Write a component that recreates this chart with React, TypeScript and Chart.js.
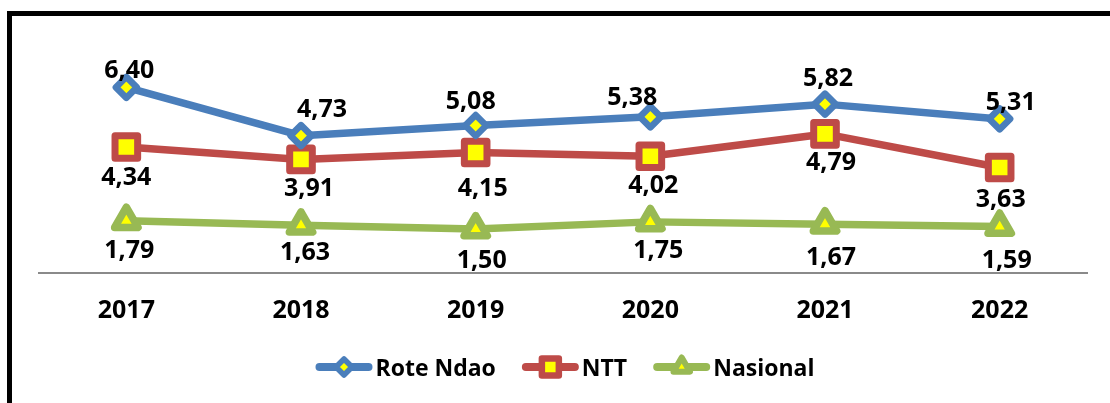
import React, { useEffect, useRef } from "react";
import { Chart, registerables } from "chart.js";

Chart.register(...registerables);

const YEARS = ["2017", "2018", "2019", "2020", "2021", "2022"];
const ROTE_NDAO = [6.4, 4.73, 5.08, 5.38, 5.82, 5.31];
const NTT = [4.34, 3.91, 4.15, 4.02, 4.79, 3.63];
const NASIONAL = [1.79, 1.63, 1.5, 1.75, 1.67, 1.59];
const SERIES_NAMES = ["Rote Ndao", "NTT", "Nasional"];

const BLUE = "#4A7EBB";
const RED = "#BE4B48";
const GREEN = "#98B954";
const YELLOW = "#FFFF00";
const FONT = "'Open Sans'";

// label nudges (dx, dy) relative to the point, per series / per category
const LABEL_OFFSETS = [
  [[3, -18], [21, -28], [-5, -26], [-18, -21], [3, -27], [11, -18]],
  [[0, 29], [8, 28], [7, 35], [3, 28], [6, 27], [1, 31]],
  [[3, 28], [4, 26], [6, 30], [8, 27], [6, 32], [7, 32]],
];

const fmt = (v: number) => v.toFixed(2).replace(".", ",");

function markerPath(ctx: CanvasRenderingContext2D, style: string, x: number, y: number, r: number) {
  ctx.beginPath();
  if (style === "rectRot") {
    ctx.moveTo(x - r, y);
    ctx.lineTo(x, y - r);
    ctx.lineTo(x + r, y);
    ctx.lineTo(x, y + r);
  } else if (style === "rect") {
    const s = Math.SQRT1_2 * r;
    ctx.rect(x - s, y - s, 2 * s, 2 * s);
  } else {
    for (let i = 0; i < 3; i++) {
      const a = (i * 2 * Math.PI) / 3;
      const px = x + Math.sin(a) * r;
      const py = y - Math.cos(a) * r;
      if (i === 0) ctx.moveTo(px, py);
      else ctx.lineTo(px, py);
    }
  }
  ctx.closePath();
}

const framePlugin = {
  id: "frame",
  beforeDraw(chart: any) {
    const ctx = chart.ctx;
    ctx.save();
    ctx.fillStyle = "#ffffff";
    ctx.fillRect(0, 0, chart.width, chart.height);
    ctx.fillStyle = "#000000";
    ctx.fillRect(7, 11, 5, chart.height);
    ctx.fillRect(7, 11, chart.width, 5);
    ctx.restore();
  },
};

const styleAndLabelPlugin = {
  id: "styleAndLabels",
  beforeDatasetsDraw(chart: any) {
    chart.ctx.save();
    chart.ctx.lineJoin = "round";
  },
  afterDatasetsDraw(chart: any) {
    const ctx = chart.ctx;
    ctx.restore();
    ctx.save();
    ctx.font = `bold 25px ${FONT}`;
    ctx.fillStyle = "#000";
    ctx.textAlign = "center";
    ctx.textBaseline = "alphabetic";
    chart.data.datasets.forEach((ds: any, di: number) => {
      const meta = chart.getDatasetMeta(di);
      meta.data.forEach((pt: any, i: number) => {
        const off = LABEL_OFFSETS[di][i];
        ctx.fillText(fmt(ds.data[i]), pt.x + off[0], pt.y + off[1] + 9);
      });
    });
    ctx.restore();
  },
};

const legendPlugin = {
  id: "customLegend",
  afterDraw(chart: any) {
    const ctx = chart.ctx;
    ctx.save();
    ctx.font = `bold 23px ${FONT}`;
    const lineLen = 57;
    const gapText = 3;
    const gapItem = 26;
    const ds = chart.data.datasets;
    const widths = ds.map((d: any) => lineLen + gapText + ctx.measureText(d.label).width);
    const total = widths.reduce((a: number, b: number) => a + b, 0) + gapItem * (ds.length - 1);
    let x = 565 - total / 2;
    const y = 367;
    const sizes: Record<string, [number, number]> = {
      rectRot: [8, 5.5],
      rect: [12, 6.5],
      triangle: [9.5, 6],
    };
    ds.forEach((d: any, i: number) => {
      ctx.lineCap = "round";
      ctx.lineJoin = "round";
      ctx.strokeStyle = d.borderColor;
      ctx.lineWidth = 8;
      ctx.beginPath();
      ctx.moveTo(x + 4, y);
      ctx.lineTo(x + lineLen - 4, y);
      ctx.stroke();
      const [r, w] = sizes[d.pointStyle];
      markerPath(ctx, d.pointStyle, x + lineLen / 2, y, r);
      ctx.fillStyle = d.pointBackgroundColor;
      ctx.fill();
      ctx.lineWidth = w;
      ctx.strokeStyle = d.pointBorderColor;
      ctx.stroke();
      ctx.fillStyle = "#000";
      ctx.textAlign = "left";
      ctx.textBaseline = "alphabetic";
      ctx.fillText(d.label, x + lineLen + gapText, y + 8.5);
      x += widths[i] + gapItem;
    });
    ctx.restore();
  },
};

export default function App() {
  const ref = useRef<HTMLCanvasElement | null>(null);

  useEffect(() => {
    if (!ref.current) return;
    const mk = (label: string, data: number[], color: string, style: string, r: number, bw: number) => ({
      label,
      data,
      borderColor: color,
      backgroundColor: color,
      borderWidth: 7.5,
      borderJoinStyle: "round",
      pointStyle: style,
      pointRadius: r,
      pointHoverRadius: r,
      pointBackgroundColor: YELLOW,
      pointBorderColor: color,
      pointBorderWidth: bw,
      clip: false,
      tension: 0,
    });
    const chart = new Chart(ref.current, {
      type: "line",
      data: {
        labels: YEARS,
        datasets: [
          mk(SERIES_NAMES[0], ROTE_NDAO, BLUE, "rectRot", 10.5, 6.5),
          mk(SERIES_NAMES[1], NTT, RED, "rect", 16, 7),
          mk(SERIES_NAMES[2], NASIONAL, GREEN, "triangle", 13.5, 7.5),
        ] as any,
      },
      options: {
        animation: false,
        responsive: true,
        maintainAspectRatio: false,
        layout: { padding: { left: 39, right: 23, top: 70, bottom: 54.5 } },
        plugins: {
          legend: { display: false },
          tooltip: { enabled: false },
        },
        scales: {
          x: {
            offset: true,
            grid: { display: false, drawTicks: false },
            border: { display: true, color: "#8a8a8a", width: 2 },
            ticks: {
              color: "#000",
              font: { family: FONT, weight: "bold", size: 25 },
              padding: 23,
            },
          },
          y: { display: false, min: 0, max: 7 },
        },
      } as any,
      plugins: [framePlugin, styleAndLabelPlugin, legendPlugin],
    });
    return () => chart.destroy();
  }, []);

  return (
    <div style={{ position: "fixed", left: 0, top: 0, width: 1110, height: 403, background: "#fff" }}>
      <canvas ref={ref} />
    </div>
  );
}
